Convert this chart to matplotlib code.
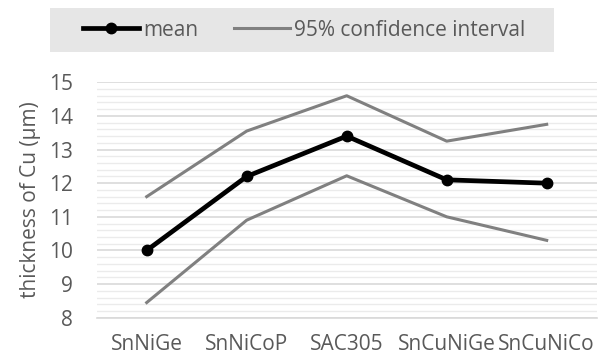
import matplotlib
matplotlib.use("Agg")
import matplotlib.pyplot as plt
from matplotlib.patches import Rectangle
from matplotlib.ticker import MultipleLocator

plt.rcParams['font.family'] = ['Open Sans', 'DejaVu Sans']

# Cu layer thickness per solder alloy
alloys = ['SnNiGe', 'SnNiCoP', 'SAC305', 'SnCuNiGe', 'SnCuNiCo']
mean = [10.0, 12.2, 13.4, 12.1, 12.0]
ci_upper = [11.6, 13.55, 14.6, 13.25, 13.75]
ci_lower = [8.45, 10.9, 12.22, 11.0, 10.3]

text_col = '#595959'
gray = '#808080'

fig = plt.figure(figsize=(6.01, 3.59), dpi=100)
ax = fig.add_axes([96.7 / 601, 41.3 / 359, 500 / 601, 235.4 / 359])

x = range(len(alloys))
ax.plot(x, mean, color='black', lw=3.4, marker='o', ms=7.5, label='mean', zorder=4)
ax.plot(x, ci_upper, color=gray, lw=2.2, label='95% confidence interval', zorder=3)
ax.plot(x, ci_lower, color=gray, lw=2.2, zorder=3)

ax.set_xlim(-0.5, len(alloys) - 0.5)
ax.set_ylim(8, 15)
ax.set_xticks(list(x))
ax.set_xticklabels(alloys)
ax.yaxis.set_major_locator(MultipleLocator(1))
ax.yaxis.set_minor_locator(MultipleLocator(0.2))
ax.grid(axis='y', which='major', color='#D9D9D9', lw=1.2, zorder=0)
ax.grid(axis='y', which='minor', color='#EBEBEB', lw=1.0, zorder=0)
ax.set_axisbelow(True)
for s in ['top', 'right', 'left']:
    ax.spines[s].set_visible(False)
ax.spines['bottom'].set_color('#D9D9D9')
ax.spines['bottom'].set_linewidth(1.2)
ax.tick_params(axis='both', which='both', length=0, labelsize=15, colors=text_col)
ax.tick_params(axis='x', pad=12)
ax.tick_params(axis='y', pad=17)
ax.set_ylabel('thickness of Cu (μm)', fontsize=15, color=text_col, labelpad=6)

# legend strip along the top
fig.patches.append(Rectangle((50 / 601, 1 - 52 / 359), 504 / 601, 44 / 359,
                             transform=fig.transFigure, facecolor='#E6E6E6',
                             edgecolor='none', zorder=0))
leg = fig.legend(loc='center', bbox_to_anchor=(304 / 601, 1 - 30 / 359), ncol=2,
                 frameon=False, fontsize=15, handlelength=2.7, handletextpad=0.2,
                 columnspacing=1.7, labelcolor=text_col)

fig.savefig('out.png', dpi=100)
